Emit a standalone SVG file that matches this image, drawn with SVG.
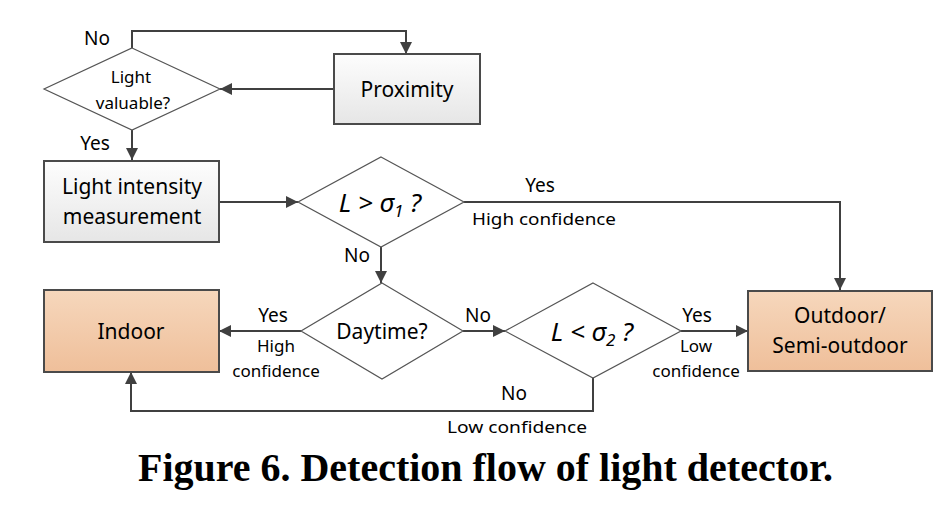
<svg xmlns="http://www.w3.org/2000/svg" width="951" height="518" viewBox="0 0 951 518">
<defs>
<linearGradient id="gGray" x1="0" y1="0" x2="0" y2="1"><stop offset="0" stop-color="#fdfdfd"/><stop offset="1" stop-color="#e6e6e6"/></linearGradient>
<linearGradient id="gPeach" x1="0" y1="0" x2="0" y2="1"><stop offset="0" stop-color="#f6d7bc"/><stop offset="1" stop-color="#efbf9a"/></linearGradient>
<marker id="arr" viewBox="0 0 10 10" refX="10" refY="5" markerWidth="12" markerHeight="12" markerUnits="userSpaceOnUse" orient="auto"><path d="M0,0 L10,5 L0,10 z" fill="#404040"/></marker>
<style>
.box{stroke:#4a4a4a;stroke-width:2}
.dia{fill:#fff;stroke:#555;stroke-width:1.2}
.con{fill:none;stroke:#404040;stroke-width:2;marker-end:url(#arr)}
.lbl{font-family:"Noto Sans","Open Sans",sans-serif;fill:#000}
.big{font-size:21px}
.mid{font-size:19px}
.sm{font-size:17px}
.math{font-size:26px;font-style:italic}
.cap{font-family:"Liberation Serif",serif;font-weight:bold;font-size:39px;fill:#000}
</style>
</defs>
<g id="connectors">
<path class="con" d="M132,48 V31 H406 V54"/>
<path class="con" d="M334,89 H220"/>
<path class="con" d="M132,130 V160"/>
<path class="con" d="M219,202 H298"/>
<path class="con" d="M464,202 H840 V290"/>
<path class="con" d="M381,247 V283"/>
<path class="con" d="M301,331 H219"/>
<path class="con" d="M463,331 H505"/>
<path class="con" d="M681,331 H748"/>
<path class="con" d="M593,378 V411 H131 V372"/>
</g>
<g id="n-light-valuable">
<polygon class="dia" points="132,48 220,89 132,130 44,89"/>
<text class="lbl sm" x="131" y="83" text-anchor="middle">Light</text>
<text class="lbl sm" x="133" y="109" text-anchor="middle">valuable?</text>
</g>
<g id="n-proximity">
<rect class="box" x="334" y="54" width="146" height="70" fill="url(#gGray)"/>
<text class="lbl big" x="407" y="97" text-anchor="middle">Proximity</text>
</g>
<g id="n-light-intensity">
<rect class="box" x="44" y="161" width="175" height="81" fill="url(#gGray)"/>
<text class="lbl big" x="132" y="194" text-anchor="middle">Light intensity</text>
<text class="lbl big" x="132" y="224" text-anchor="middle">measurement</text>
</g>
<g id="n-sigma1">
<polygon class="dia" points="381,157 464,202 381,247 298,202"/>
<text class="lbl math" x="380" y="212" text-anchor="middle">L &gt; σ<tspan font-size="17" dy="5">1</tspan><tspan dy="-5"> ?</tspan></text>
</g>
<g id="n-daytime">
<polygon class="dia" points="382,283 463,331 382,379 301,331"/>
<text class="lbl big" x="382" y="339" text-anchor="middle">Daytime?</text>
</g>
<g id="n-sigma2">
<polygon class="dia" points="593,283 681,331 593,378 505,331"/>
<text class="lbl math" x="592" y="341" text-anchor="middle">L &lt; σ<tspan font-size="17" dy="5">2</tspan><tspan dy="-5"> ?</tspan></text>
</g>
<g id="n-indoor">
<rect class="box" x="44" y="290" width="175" height="82" fill="url(#gPeach)"/>
<text class="lbl big" x="131" y="339" text-anchor="middle">Indoor</text>
</g>
<g id="n-outdoor">
<rect class="box" x="748" y="291" width="184" height="80" fill="url(#gPeach)"/>
<text class="lbl big" x="840" y="323" text-anchor="middle">Outdoor/</text>
<text class="lbl big" x="840" y="353" text-anchor="middle">Semi-outdoor</text>
</g>
<g id="labels">
<text class="lbl mid" x="97" y="45" text-anchor="middle">No</text>
<text class="lbl mid" x="95" y="150" text-anchor="middle">Yes</text>
<text class="lbl mid" x="540" y="192" text-anchor="middle">Yes</text>
<text class="lbl sm" x="544" y="225" text-anchor="middle" textLength="144" lengthAdjust="spacingAndGlyphs">High confidence</text>
<text class="lbl mid" x="357" y="262" text-anchor="middle">No</text>
<text class="lbl mid" x="273" y="322" text-anchor="middle">Yes</text>
<text class="lbl sm" x="276" y="352" text-anchor="middle">High</text>
<text class="lbl sm" x="276" y="377" text-anchor="middle">confidence</text>
<text class="lbl mid" x="478" y="322" text-anchor="middle">No</text>
<text class="lbl mid" x="697" y="322" text-anchor="middle">Yes</text>
<text class="lbl sm" x="696" y="352" text-anchor="middle">Low</text>
<text class="lbl sm" x="696" y="377" text-anchor="middle">confidence</text>
<text class="lbl mid" x="514" y="400" text-anchor="middle">No</text>
<text class="lbl sm" x="517" y="433" text-anchor="middle" textLength="140" lengthAdjust="spacingAndGlyphs">Low confidence</text>
</g>
<text class="cap" x="138" y="481" textLength="695" lengthAdjust="spacingAndGlyphs">Figure 6. Detection flow of light detector.</text>
</svg>
